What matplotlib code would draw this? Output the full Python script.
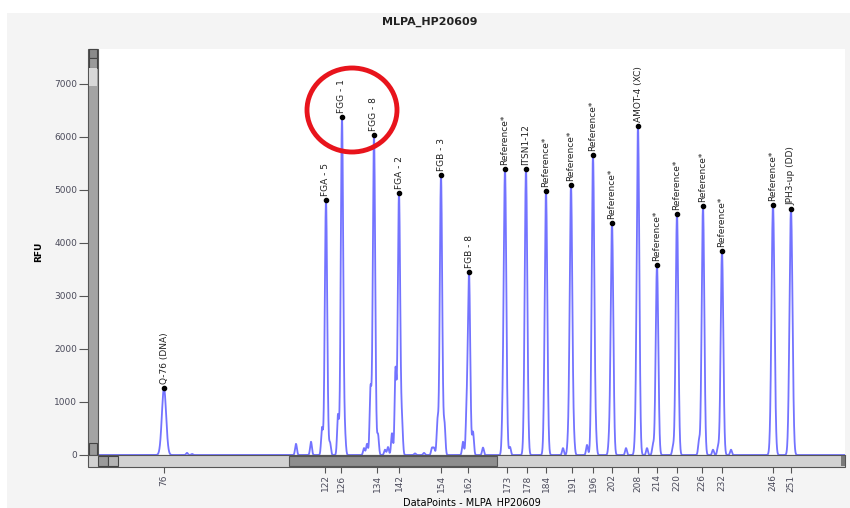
import numpy as np
import matplotlib
matplotlib.use("Agg")
import matplotlib.pyplot as plt
from matplotlib.patches import Rectangle, Ellipse

# ======================
# Data (x in data points, y in RFU)
# ======================
peak_names = ["Q-76 (DNA)", "FGA - 5", "FGG - 1", "FGG - 8", "FGA - 2", "FGB - 3",
              "FGB - 8", "Reference*", "ITSN1-12", "Reference*", "Reference*",
              "Reference*", "Reference*", "AMOT-4 (XC)", "Reference*", "Reference*",
              "Reference*", "Reference*", "Reference*", "JPH3-up (DD)"]
peak_pos = [164, 326, 342, 374, 399, 441, 469, 505, 526, 546, 571, 593, 612,
            638, 657, 677, 703, 722, 773, 791]
peak_rfu = [1265, 4810, 6380, 6040, 4945, 5285, 3455, 5400, 5400, 4980, 5095,
            5660, 4380, 6210, 3585, 4550, 4700, 3850, 4720, 4640]
peak_width = [2.1, 1.2, 1.2, 1.2, 1.2, 1.2, 1.2, 1.3, 1.3, 1.3, 1.3, 1.3, 1.3,
              1.3, 1.3, 1.3, 1.3, 1.3, 1.5, 1.5]

# small side peaks / shoulders
minor_pos = [187, 192, 296, 311, 322, 330, 338, 345, 364, 367, 370.5, 378, 385,
             388, 392, 395.5, 402, 415, 424, 432, 434, 437.5, 444.5, 463, 466.5,
             473, 483, 502.5, 510, 563, 568, 574, 587, 596, 609, 626, 635, 647,
             653, 673, 699, 713, 718, 731]
minor_rfu = [40, 20, 210, 250, 510, 230, 750, 320, 130, 210, 1230, 380, 100,
             150, 410, 1590, 570, 30, 40, 130, 130, 620, 570, 250, 640, 430,
             140, 380, 150, 130, 190, 210, 190, 230, 190, 130, 150, 130, 190,
             150, 260, 100, 150, 100]

tick_sizes = ["76", "122", "126", "134", "142", "154", "162", "173", "178", "184",
              "191", "196", "202", "208", "214", "220", "226", "232", "246", "251"]
tick_pos = [164, 325, 341, 377, 399, 441, 468, 507, 527, 546, 572, 593, 612,
            638, 657, 677, 702, 722, 773, 791]

y_ticks = [0, 1000, 2000, 3000, 4000, 5000, 6000, 7000]

# ======================
# Trace
# ======================
x = np.linspace(98, 845, 7000)
y = np.zeros_like(x)
for p, h, w in zip(peak_pos, peak_rfu, peak_width):
    y += h * np.exp(-0.5 * ((x - p) / w) ** 2)
for p, h in zip(minor_pos, minor_rfu):
    y += h * np.exp(-0.5 * ((x - p) / 0.9) ** 2)

# ======================
# Figure
# ======================
W, H = 850, 508
fig = plt.figure(figsize=(W / 100, H / 100), dpi=100)
fig.patch.set_facecolor("white")


def fx(px):
    return px / W


def fy(py):
    return 1 - py / H


# grey panel behind everything
fig.add_artist(Rectangle((fx(7), 0), fx(843), fy(13), transform=fig.transFigure,
                         facecolor="#f4f4f4", edgecolor="none", zorder=-5))

left, right, top, bottom = 98, 845, 49, 455
ax = fig.add_axes([fx(left), fy(bottom), fx(right - left), (bottom - top) / H])
ax.set_facecolor("white")
ax.plot(x, y, color="#5050ff", lw=1.3, alpha=0.8)
ax.plot(peak_pos, peak_rfu, "o", color="black", ms=3)
for name, p, h in zip(peak_names, peak_pos, peak_rfu):
    ax.annotate(name, (p, h), xytext=(0, 3), textcoords="offset points",
                rotation=90, ha="center", va="bottom", fontsize=6.5, color="#222222")

ax.set_xlim(left, right)
ax.set_ylim(0, 7660)
ax.set_yticks(y_ticks)
ax.set_yticklabels([str(v) for v in y_ticks], fontsize=6.5, color="#4a4a5a")
ax.set_xticks(tick_pos)
ax.set_xticklabels(tick_sizes, rotation=90, fontsize=6.5, color="#4a4a5a")
ax.tick_params(axis="y", length=14, width=0.8, color="#555555", pad=1)
ax.tick_params(axis="x", length=13, width=0.8, color="#555555", pad=1)
for s in ["top", "right"]:
    ax.spines[s].set_visible(False)
ax.spines["left"].set_visible(False)
ax.spines["bottom"].set_color("#555555")

ax.set_ylabel("RFU", fontsize=6.5, fontweight="bold", labelpad=8)
ax.set_xlabel("DataPoints - MLPA_HP20609", fontsize=7, labelpad=4)
fig.text(fx(430), fy(22), "MLPA_HP20609", ha="center", va="center",
         fontsize=8, fontweight="bold", color="#222222")


def frect(x0, y0, x1, y1, fc, ec="none", lw=0.8, z=2):
    fig.add_artist(Rectangle((fx(x0), fy(y1)), fx(x1 - x0), (y1 - y0) / H,
                             transform=fig.transFigure, facecolor=fc,
                             edgecolor=ec, linewidth=lw, zorder=z))


# vertical scrollbar
frect(88, 49, 98, 455, "#a4a4a4", "#555555")
frect(89, 49, 97, 58, "#8a8a8a", "#444444")
frect(89, 58, 97, 68, "#9a9a9a", "#444444")
frect(89, 68, 97, 86, "#d8d8d8")
frect(89, 443, 97, 455, "#9a9a9a", "#444444")
# horizontal scrollbar
frect(88, 455, 845, 467, "#d2d2d2", "#555555")
frect(98, 456, 108, 466, "#9a9a9a", "#444444")
frect(108, 456, 118, 466, "#b4b4b4", "#444444")
frect(289, 456, 497, 466, "#8e8e8e", "#555555")
frect(841, 456, 845, 466, "#7a7a7a")

# red highlight circle
fig.add_artist(Ellipse((fx(352), fy(110)), fx(90), 84 / H, transform=fig.transFigure,
                       facecolor="none", edgecolor="#e8141c", linewidth=3.5, zorder=3))

fig.savefig("out.png", dpi=100)
